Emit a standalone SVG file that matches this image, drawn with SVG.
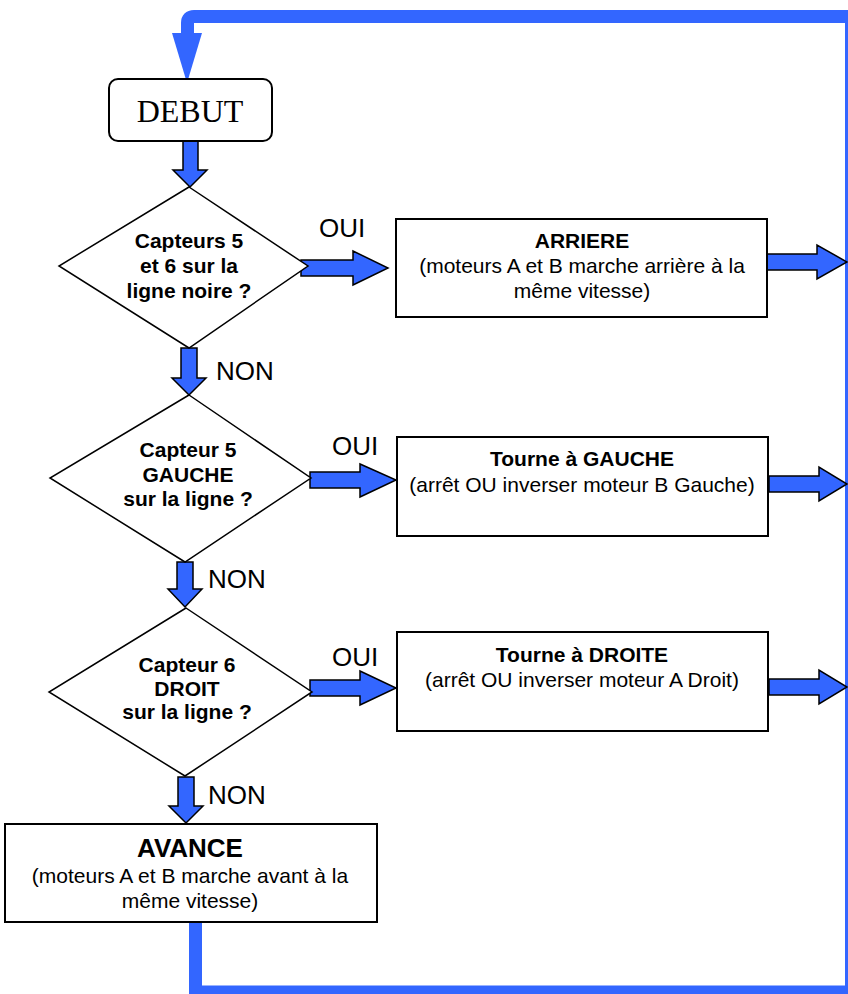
<svg xmlns="http://www.w3.org/2000/svg" width="848" height="994" viewBox="0 0 848 994">
<style>
.box{fill:#fff;stroke:#000;stroke-width:2}
.dia{fill:#fff;stroke:#000;stroke-width:1.5}
.blk{fill:#3366ff;stroke:#000;stroke-width:1.5;stroke-linejoin:miter}
.loop{fill:none;stroke:#3366ff;stroke-width:13}
.t{font-family:"Liberation Sans",Arial,sans-serif;font-size:21px;fill:#000;text-anchor:middle}
.b{font-weight:bold}
.big{font-size:26px}
.d{font-family:"Liberation Sans",Arial,sans-serif;font-size:21px;font-weight:bold;fill:#000;text-anchor:middle}
.lab{font-family:"Liberation Sans",Arial,sans-serif;font-size:26px;fill:#000}
</style>
<rect width="848" height="994" fill="#fff"/>
<g id="connectors">
<path class="loop" d="M195.5 922 V992 H851.5 V16.5 H194 Q187.5 16.5 187.5 23 V40" stroke-linejoin="miter"/>
<polygon points="172,33 202,33 187,83" fill="#3366ff"/>
<polygon class="blk" points="183,141 198,141 198,170 207,170 190,187 173,170 183,170"/>
<polygon class="blk" points="181,348 197,348 197,378 206,378 189,395 172,378 181,378"/>
<polygon class="blk" points="177,562 193,562 193,589 202,589 185,607 168,589 177,589"/>
<polygon class="blk" points="178,777 194,777 194,806 203,806 186,823 169,806 178,806"/>
<polygon class="blk" points="301,260 353,260 353,251 388,268 353,285 353,276 301,276"/>
<polygon class="blk" points="310,472 360,472 360,464 396,480 360,497 360,488 310,488"/>
<polygon class="blk" points="310,680 360,680 360,671 396,688 360,705 360,696 310,696"/>
<polygon class="blk" points="767,254 817,254 817,245 847,262 817,279 817,270 767,270"/>
<polygon class="blk" points="769,476 819,476 819,467 847,484 819,501 819,492 769,492"/>
<polygon class="blk" points="769,679 819,679 819,670 847,687 819,704 819,695 769,695"/>
<text class="lab" x="319" y="237">OUI</text>
<text class="lab" x="332" y="455">OUI</text>
<text class="lab" x="332" y="666">OUI</text>
<text class="lab" x="216" y="380">NON</text>
<text class="lab" x="208" y="588">NON</text>
<text class="lab" x="208" y="804">NON</text>
</g>
<g id="debut">
<rect x="109" y="79" width="163" height="62" rx="9" class="box"/>
<text x="190" y="122" font-family="Liberation Serif,Times New Roman,serif" font-size="32" text-anchor="middle">DEBUT</text>
</g>
<g id="d1">
<polygon class="dia" points="189,187 308,266 189,348 59,266"/>
<text class="d" x="189" y="248">Capteurs 5</text>
<text class="d" x="189" y="273">et 6 sur la</text>
<text class="d" x="189" y="298">ligne noire ?</text>
</g>
<g id="d2">
<polygon class="dia" points="189,395 311,478 185,562 50,478"/>
<text class="d" x="188" y="457">Capteur 5</text>
<text class="d" x="188" y="482">GAUCHE</text>
<text class="d" x="188" y="506">sur la ligne ?</text>
</g>
<g id="d3">
<polygon class="dia" points="186,608 312,692 185,776 49,692"/>
<text class="d" x="187" y="672">Capteur 6</text>
<text class="d" x="187" y="696">DROIT</text>
<text class="d" x="187" y="719">sur la ligne ?</text>
</g>
<g id="arriere">
<rect x="396" y="219" width="371" height="98" class="box"/>
<text class="t b" x="582" y="248">ARRIERE</text>
<text class="t" x="582" y="273">(moteurs A et B marche arrière à la</text>
<text class="t" x="582" y="298">même vitesse)</text>
</g>
<g id="gauche">
<rect x="397" y="437" width="371" height="99" class="box"/>
<text class="t b" x="582" y="466">Tourne à GAUCHE</text>
<text class="t" x="582" y="492">(arrêt OU inverser moteur B Gauche)</text>
</g>
<g id="droite">
<rect x="397" y="632" width="371" height="99" class="box"/>
<text class="t b" x="582" y="662">Tourne à DROITE</text>
<text class="t" x="582" y="687">(arrêt OU inverser moteur A Droit)</text>
</g>
<g id="avance">
<rect x="5" y="824" width="372" height="98" class="box"/>
<text class="t b big" x="190" y="857">AVANCE</text>
<text class="t" x="190" y="883">(moteurs A et B marche avant à la</text>
<text class="t" x="190" y="908">même vitesse)</text>
</g>
</svg>
